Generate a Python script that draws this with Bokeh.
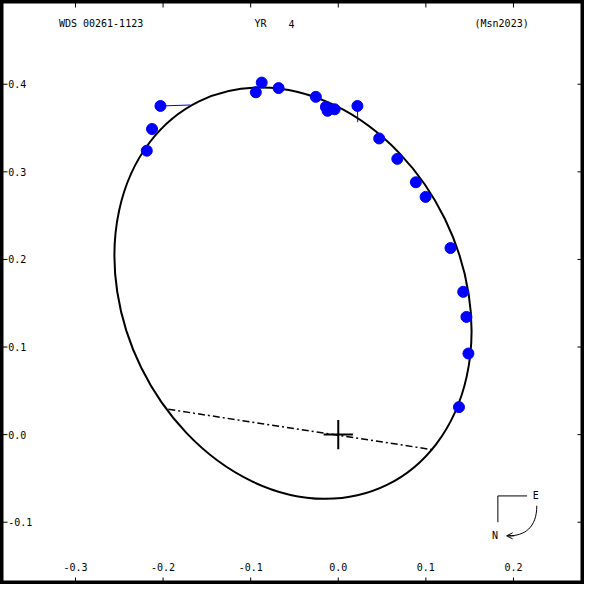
import math
from bokeh.plotting import figure
from bokeh.models import Range1d, Label, Arrow, OpenHead
from bokeh.core.properties import value
from bokeh.embed import file_html
from bokeh.resources import INLINE

# ---------------- data ----------------
title_left = "WDS 00261-1123"
title_mid_a = "YR"
title_mid_b = "4"
title_right = "(Msn2023)"

# observed relative positions (arcsec)
obs_x = [-0.2030, -0.2126, -0.2186, -0.0874, -0.0941, -0.0681, -0.0256, -0.0141,
         -0.0122, -0.0041, 0.0219, 0.0467, 0.0674, 0.0886, 0.0997, 0.1281,
         0.1426, 0.1463, 0.1486, 0.1378]
obs_y = [0.3752, 0.3489, 0.3241, 0.4019, 0.3908, 0.3956, 0.3856, 0.3741,
         0.3697, 0.3714, 0.3752, 0.3381, 0.3148, 0.2881, 0.2714, 0.2130,
         0.1630, 0.1344, 0.0926, 0.0314]

# O-C residual connectors (index of observation -> predicted position)
resid_idx = [0, 10]
pred_x = [-0.1689, 0.0222]
pred_y = [0.3763, 0.3567]

# apparent orbit ellipse
orbit_cx = -0.0517
orbit_cy = 0.1615
orbit_semi_major = 0.2438
orbit_semi_minor = 0.1931
orbit_angle_deg = -63.9

# line of nodes end points
node_x = [-0.194, 0.109]
node_y = [0.0289, -0.0174]

x_ticks = [-0.3, -0.2, -0.1, 0.0, 0.1, 0.2]
x_tick_labels = ["-0.3", "-0.2", "-0.1", "0.0", "0.1", "0.2"]
y_ticks = [-0.1, 0.0, 0.1, 0.2, 0.3, 0.4]
y_tick_labels = ["-0.1", "0.0", "0.1", "0.2", "0.3", "0.4"]

# ---------------- layout ----------------
W = 584
X0, X1 = -0.3856, 0.2811
Y0, Y1 = -0.1711, 0.4956
F = W / 600.0
FONT = "DejaVu Sans Mono"
FS = "10px"


def rx(px):
    return X0 + px * (X1 - X0) / 600.0


def ry(py):
    return Y1 - py * (Y1 - Y0) / 600.0


p = figure(width=W, height=W, output_backend="svg", toolbar_location=None,
           x_range=Range1d(X0, X1), y_range=Range1d(Y0, Y1),
           x_axis_type=None, y_axis_type=None, min_border=0)
p.grid.visible = False
p.outline_line_color = "black"
p.outline_line_width = 6
p.background_fill_color = "white"
p.border_fill_color = "white"

# ticks
n = len(x_ticks)
p.scatter(x=x_ticks, y=[Y1] * n, marker="dash", size=14, angle=math.pi / 2,
          line_color="black", line_width=1)
p.scatter(x=x_ticks, y=[Y0] * n, marker="dash", size=14, angle=math.pi / 2,
          line_color="black", line_width=1)
m = len(y_ticks)
p.scatter(x=[X0] * m, y=y_ticks, marker="dash", size=14,
          line_color="black", line_width=1)
p.scatter(x=[X1] * m, y=y_ticks, marker="dash", size=14,
          line_color="black", line_width=1)

# tick labels
p.text(x=x_ticks, y=[Y0] * n, text=x_tick_labels, y_offset=-18 * F,
       text_align="center", text_baseline="middle",
       text_font=value(FONT), text_font_size=FS, text_color="black")
p.text(x=[X0] * m, y=y_ticks, text=y_tick_labels, x_offset=8 * F,
       text_align="left", text_baseline="middle",
       text_font=value(FONT), text_font_size=FS, text_color="black")

# titles
for txt, px in [(title_left, 60), (title_mid_a, 261), (title_mid_b, 296),
                (title_right, 487)]:
    p.add_layout(Label(x=rx(px), y=ry(24), text=txt, text_font=FONT,
                       text_font_size=FS, text_align="left",
                       text_baseline="middle", text_color="black"))

# orbit
p.ellipse(x=[orbit_cx], y=[orbit_cy], width=[2 * orbit_semi_major],
          height=[2 * orbit_semi_minor], angle=[math.radians(orbit_angle_deg)],
          fill_color=None, line_color="black", line_width=2)

# line of nodes
p.line(x=node_x, y=node_y, line_color="black", line_width=1.5,
       line_dash="7 3 2 3")

# primary
p.scatter(x=[0.0], y=[0.0], marker="cross", size=30 * F, line_color="black",
          line_width=2)

# residuals
p.segment(x0=[obs_x[i] for i in resid_idx], y0=[obs_y[i] for i in resid_idx],
          x1=pred_x, y1=pred_y, line_color="#0000ff", line_width=1)

# observations
p.scatter(x=obs_x, y=obs_y, marker="circle", size=11, fill_color="#0000ff",
          line_color="#0000ff")

# compass
p.line(x=[rx(541), rx(511), rx(511)], y=[ry(509), ry(509), ry(536)],
       line_color="black", line_width=1)
p.add_layout(Label(x=rx(550), y=ry(509), text="E", text_font=FONT,
                   text_font_size=FS, text_align="center",
                   text_baseline="middle", text_color="black"))
p.add_layout(Label(x=rx(508), y=ry(550), text="N", text_font=FONT,
                   text_font_size=FS, text_align="center",
                   text_baseline="middle", text_color="black"))
p.bezier(x0=[rx(551)], y0=[ry(519)], x1=[rx(522)], y1=[ry(550)],
         cx0=[rx(551)], cy0=[ry(542)], cx1=[rx(538)], cy1=[ry(550)],
         line_color="black", line_width=1)
p.add_layout(Arrow(end=OpenHead(size=6, line_width=1, line_color="black"),
                   x_start=rx(528), y_start=ry(550), x_end=rx(520),
                   y_end=ry(550), line_color="black", line_width=1))

open("out.html", "w").write(file_html(p, INLINE))
